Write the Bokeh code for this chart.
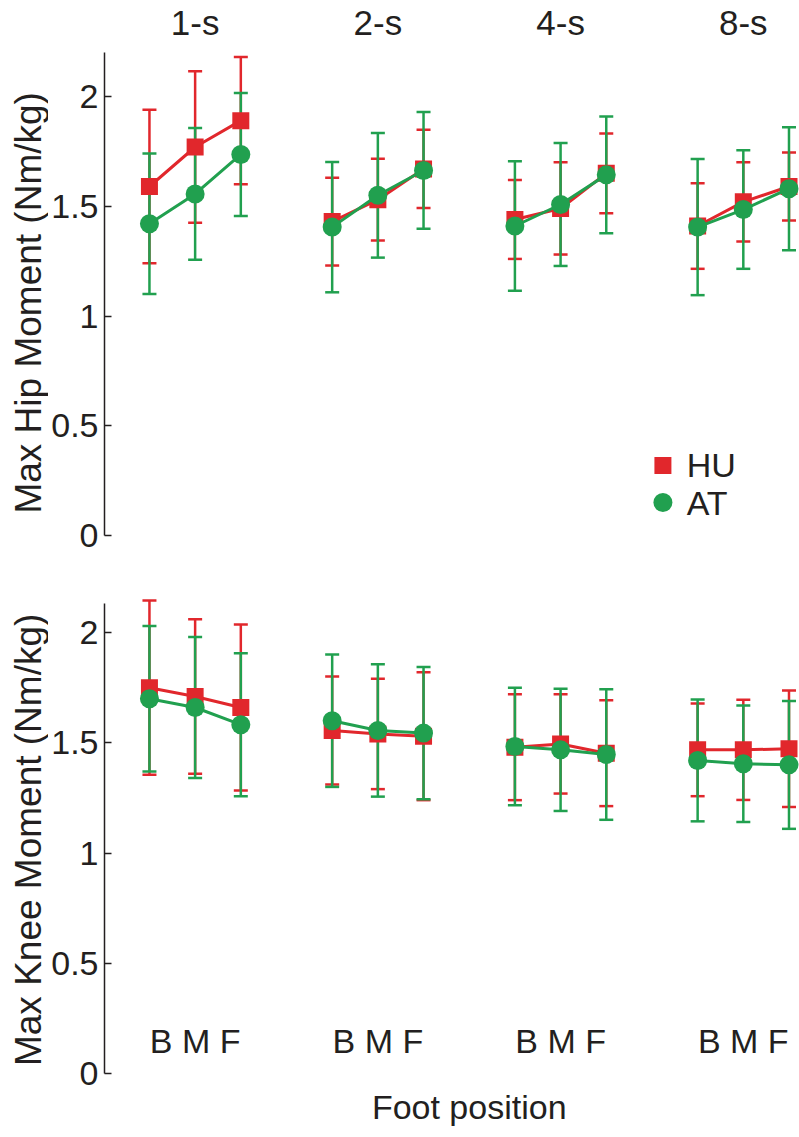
import math
from bokeh.plotting import figure
from bokeh.layouts import column, row
from bokeh.models import (ColumnDataSource, Whisker, TeeHead, Range1d, FixedTicker,
                          CustomJSTickFormatter)
from bokeh.core.properties import value
from bokeh.embed import file_html
from bokeh.resources import INLINE

# ---------------- data ----------------
conditions = ["1-s", "2-s", "4-s", "8-s"]
positions = ["B", "M", "F"]
series = ["HU", "AT"]

hip_hu_mean = [1.59, 1.77, 1.89, 1.43, 1.53, 1.67, 1.44, 1.49, 1.65, 1.41, 1.52, 1.59]
hip_hu_sd = [0.35, 0.345, 0.29, 0.20, 0.186, 0.178, 0.18, 0.21, 0.182, 0.195, 0.18, 0.155]
hip_at_mean = [1.42, 1.556, 1.736, 1.405, 1.55, 1.663, 1.41, 1.508, 1.643, 1.405, 1.485, 1.58]
hip_at_sd = [0.32, 0.30, 0.28, 0.297, 0.284, 0.266, 0.295, 0.28, 0.266, 0.31, 0.27, 0.28]

knee_hu_mean = [1.75, 1.71, 1.66, 1.556, 1.54, 1.53, 1.48, 1.495, 1.453, 1.468, 1.468, 1.473]
knee_hu_sd = [0.395, 0.35, 0.376, 0.245, 0.25, 0.29, 0.24, 0.225, 0.24, 0.21, 0.227, 0.264]
knee_at_mean = [1.70, 1.66, 1.582, 1.60, 1.556, 1.544, 1.483, 1.468, 1.447, 1.42, 1.405, 1.40]
knee_at_sd = [0.33, 0.32, 0.324, 0.30, 0.30, 0.30, 0.266, 0.277, 0.296, 0.276, 0.264, 0.29]

y_ticks = [0, 0.5, 1, 1.5, 2]

# ---------------- style ----------------
RED = "#e1272c"
GREEN = "#21a04f"
INK = "#231f20"
FONT = "Liberation Sans"
GROUP_GAP = 4  # x units between condition groups
LABEL_W = 48   # width of the strip holding the rotated y-axis title

xs = [g * GROUP_GAP + k for g in range(len(conditions)) for k in range(len(positions))]
group_centers = [g * GROUP_GAP + 1 for g in range(len(conditions))]


def split_groups(vals):
    n = len(positions)
    return [vals[i * n:(i + 1) * n] for i in range(len(conditions))]


def label_strip(text, y0, y1, height, mb):
    q = figure(width=LABEL_W, height=height, x_range=Range1d(0, LABEL_W),
               y_range=Range1d(y0, y1), output_backend="svg", toolbar_location=None,
               x_axis_location=None, y_axis_location=None, title=None,
               min_border_left=0, min_border_right=0, min_border_top=0,
               min_border_bottom=mb, outline_line_color=None)
    q.grid.visible = False
    q.text(x=[28], y=[1.06], text=[text], angle=math.pi / 2, text_font=value(FONT),
           text_font_size="37px", text_align="center", text_baseline="middle",
           text_color=INK)
    return q


def make_panel(hu_m, hu_s, at_m, at_s, y0, y1, axis_top, height, mb):
    p = figure(width=799 - LABEL_W, height=height, x_range=Range1d(-0.984, 14.23),
               y_range=Range1d(y0, y1), output_backend="svg", toolbar_location=None,
               x_axis_location=None, y_axis_location="left", title=None,
               min_border_left=103 - LABEL_W, min_border_right=0, min_border_top=0,
               min_border_bottom=mb, outline_line_color=None)
    p.grid.visible = False
    ax = p.yaxis[0]
    ax.ticker = FixedTicker(ticks=y_ticks)
    ax.formatter = CustomJSTickFormatter(code="return tick.toString();")
    ax.bounds = (0, axis_top)
    ax.axis_line_color = INK
    ax.axis_line_width = 1.5
    ax.major_tick_in = 7
    ax.major_tick_out = 0
    ax.major_tick_line_color = INK
    ax.major_tick_line_width = 1.5
    ax.minor_tick_line_color = None
    ax.major_label_text_font = FONT
    ax.major_label_text_font_size = "34px"
    ax.major_label_text_color = INK
    ax.major_label_standoff = 6

    for m, s, color in [(hu_m, hu_s, RED), (at_m, at_s, GREEN)]:
        src = ColumnDataSource(dict(x=xs, y=m,
                                    upper=[a + b for a, b in zip(m, s)],
                                    lower=[a - b for a, b in zip(m, s)]))
        w = Whisker(base="x", upper="upper", lower="lower", source=src,
                    line_color=color, line_width=2.5,
                    upper_head=TeeHead(size=14, line_color=color, line_width=2.5),
                    lower_head=TeeHead(size=14, line_color=color, line_width=2.5))
        p.add_layout(w)

    for m, color, marker, size in [(hu_m, RED, "square", 17), (at_m, GREEN, "circle", 19)]:
        p.multi_line(xs=split_groups(xs), ys=split_groups(m), line_color=color, line_width=3)
        p.scatter(x=xs, y=m, marker=marker, size=size, fill_color=color, line_color=None)
    return p


TOP = dict(y0=-0.0592, y1=2.4374, height=560, mb=12)
BOT = dict(y0=-0.2892, y1=2.3264, height=577, mb=0)

p1 = make_panel(hip_hu_mean, hip_hu_sd, hip_at_mean, hip_at_sd, axis_top=2.2, **TOP)
p2 = make_panel(knee_hu_mean, knee_hu_sd, knee_at_mean, knee_at_sd, axis_top=2.13, **BOT)
l1 = label_strip("Max Hip Moment (Nm/kg)", **TOP)
l2 = label_strip("Max Knee Moment (Nm/kg)", **BOT)

# condition titles
p1.text(x=group_centers, y=[2.337] * len(conditions), text=conditions,
        text_font=value(FONT), text_font_size="35px", text_align="center",
        text_baseline="middle", text_color=INK)

# legend
p1.scatter(x=[11.24], y=[0.319], marker="square", size=17, fill_color=RED, line_color=None)
p1.scatter(x=[11.24], y=[0.150], marker="circle", size=19, fill_color=GREEN, line_color=None)
p1.text(x=[11.76, 11.76], y=[0.319, 0.150], text=series, text_font=value(FONT),
        text_font_size="34px", text_align="left", text_baseline="middle", text_color=INK)

# foot position labels
p2.text(x=group_centers, y=[0.146] * len(conditions),
        text=[" ".join(positions)] * len(conditions), text_font=value(FONT),
        text_font_size="34px", text_align="center", text_baseline="middle",
        text_color=INK)
p2.text(x=[sum(group_centers) / len(group_centers)], y=[-0.153], text=["Foot position"],
        text_font=value(FONT), text_font_size="34px", text_align="center",
        text_baseline="middle", text_color=INK)

layout = column(row(l1, p1), row(l2, p2))
open("out.html", "w").write(file_html(layout, INLINE))
